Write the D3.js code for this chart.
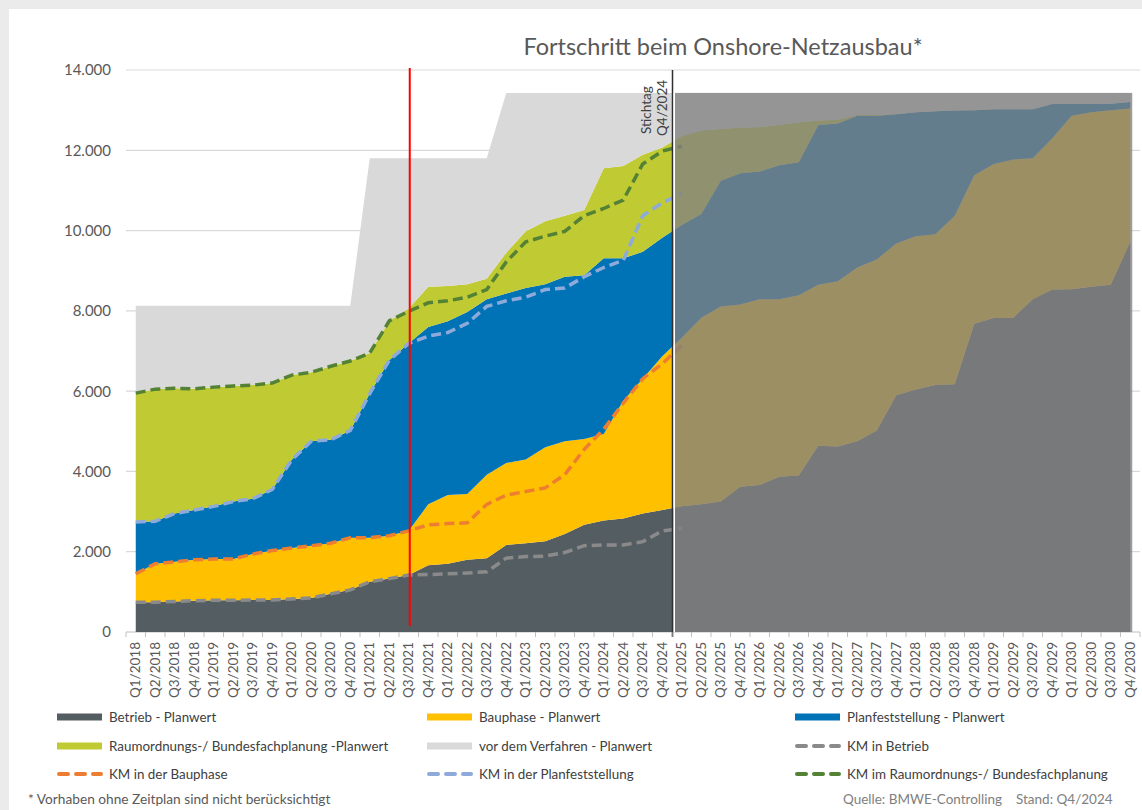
<!DOCTYPE html>
<html>
<head>
<meta charset="utf-8">
<script src="https://cdn.jsdelivr.net/npm/d3@7"></script>
<style>
  body { margin: 0; background: #ebebeb; }
  svg { display: block; }
  text { font-family: Lato, "Open Sans", sans-serif; }
</style>
</head>
<body>
<script>
// Quartale Q1/2018 .. Q4/2030
const quarters = [
  "Q1/2018","Q2/2018","Q3/2018","Q4/2018","Q1/2019","Q2/2019","Q3/2019","Q4/2019",
  "Q1/2020","Q2/2020","Q3/2020","Q4/2020","Q1/2021","Q2/2021","Q3/2021","Q4/2021",
  "Q1/2022","Q2/2022","Q3/2022","Q4/2022","Q1/2023","Q2/2023","Q3/2023","Q4/2023",
  "Q1/2024","Q2/2024","Q3/2024","Q4/2024","Q1/2025","Q2/2025","Q3/2025","Q4/2025",
  "Q1/2026","Q2/2026","Q3/2026","Q4/2026","Q1/2027","Q2/2027","Q3/2027","Q4/2027",
  "Q1/2028","Q2/2028","Q3/2028","Q4/2028","Q1/2029","Q2/2029","Q3/2029","Q4/2029",
  "Q1/2030","Q2/2030","Q3/2030","Q4/2030"
];

// Planwerte (km je Phase, gestapelt)
const betrieb = [740,740,760,780,790,790,800,800,820,850,950,1050,1250,1330,1420,1660,
  1700,1800,1840,2170,2210,2260,2440,2670,2780,2830,2950,3040,3130,3180,3250,3620,
  3660,3870,3900,4640,4620,4750,5020,5900,6040,6150,6170,7680,7820,7830,8290,8530,
  8540,8600,8650,9720];
const bauphase = [710,960,990,1020,1030,1030,1140,1230,1270,1300,1260,1300,1100,1070,1100,1520,
  1710,1640,2080,2040,2090,2340,2310,2140,2150,2930,3360,3830,4200,4650,4860,4540,
  4630,4420,4490,4010,4120,4330,4260,3780,3820,3760,4200,3700,3840,3940,3510,3770,
  4320,4350,4350,3320];
const planfest = [1290,1060,1200,1240,1310,1430,1380,1520,2200,2600,2580,2670,3590,4370,4670,4420,
  4330,4530,4370,4220,4270,4060,4100,4080,4380,3550,3160,2950,2810,2580,3130,3270,
  3180,3340,3310,3980,3930,3780,3580,3220,3090,3060,2620,1620,1360,1250,1220,850,
  290,200,160,160];
const raumordnung = [3210,3290,3120,3020,2970,2880,2830,2650,2110,1720,1830,1730,1010,980,870,1000,
  880,690,510,1020,1410,1570,1520,1620,2240,2300,2420,2250,2210,2080,1290,1130,
  1110,1000,990,110,90,20,20,0,0,0,0,0,0,0,0,0,
  0,0,0,0];
const vorVerfahren = [2180,2080,2060,2070,2030,2000,1980,1930,1730,1660,1510,1380,4850,4050,3740,3200,
  3180,3140,3000,3980,3450,3200,3060,2920,1880,1820,1540,1360,1080,940,900,870,
  850,800,740,690,670,550,550,530,480,460,440,430,410,410,410,280,
  280,280,270,230];

// Ist-Werte (kumuliert, km) bis Q1/2025
const kmBetrieb = [740,740,760,780,790,790,800,800,820,850,950,1050,1250,1330,1420,1430,
  1450,1470,1500,1840,1880,1890,1980,2150,2170,2170,2250,2520,2580];
const kmBauphase = [1450,1700,1750,1800,1820,1820,1940,2030,2090,2150,2210,2350,2350,2400,2520,2670,
  2700,2720,3180,3410,3500,3590,3920,4550,5050,5700,6310,6680,7140];
const kmPlanfest = [2740,2760,2950,3040,3130,3250,3320,3550,4290,4750,4790,5020,5940,6770,7190,7370,
  7460,7690,8110,8250,8340,8530,8570,8850,9080,9260,10370,10690,10920];
const kmRaumordnung = [5950,6050,6070,6060,6100,6130,6150,6200,6400,6470,6620,6750,6950,7750,7990,8200,
  8250,8340,8530,9220,9720,9860,9980,10370,10550,10760,11660,11980,12100];

const yTicks = [0, 2000, 4000, 6000, 8000, 10000, 12000, 14000];
const stichtag = "Q4/2024";
const redMark = "Q3/2021";

const areaSeries = [
  { key: "betrieb", label: "Betrieb - Planwert", color: "#545d62" },
  { key: "bauphase", label: "Bauphase - Planwert", color: "#ffc000" },
  { key: "planfest", label: "Planfeststellung - Planwert", color: "#0072b6" },
  { key: "raumordnung", label: "Raumordnungs-/ Bundesfachplanung -Planwert", color: "#c0ca33" },
  { key: "vorVerfahren", label: "vor dem Verfahren - Planwert", color: "#d9d9d9" }
];
const lineSeries = [
  { values: kmBetrieb, label: "KM in Betrieb", color: "#8a8a8a" },
  { values: kmBauphase, label: "KM in der Bauphase", color: "#ed7d31" },
  { values: kmPlanfest, label: "KM in der Planfeststellung", color: "#8eaadb" },
  { values: kmRaumordnung, label: "KM im Raumordnungs-/ Bundesfachplanung", color: "#548235" }
];

const width = 1142, height = 810;

const svg = d3.select("body").append("svg")
    .attr("width", width)
    .attr("height", height);

svg.append("rect")
    .attr("x", 9).attr("y", 9)
    .attr("width", width - 9).attr("height", height - 9)
    .attr("fill", "#fff");

const x = d3.scalePoint()
    .domain(quarters)
    .range([126, 1140])
    .padding(0.5);

const y = d3.scaleLinear()
    .domain([0, 14000])
    .range([632, 70]);

const step = x.step();

// Gitterlinien
svg.append("g")
  .selectAll("line")
  .data(yTicks)
  .enter().append("line")
    .attr("x1", 126).attr("x2", 1140)
    .attr("y1", d => y(d)).attr("y2", d => y(d))
    .attr("stroke", d => d === 0 ? "#bfbfbf" : "#d9d9d9")
    .attr("stroke-width", 1.2);

svg.append("g")
  .selectAll("text")
  .data(yTicks)
  .enter().append("text")
    .attr("x", 111)
    .attr("y", d => y(d))
    .attr("dy", "0.36em")
    .attr("text-anchor", "end")
    .attr("font-size", 15)
    .attr("fill", "#595959")
    .text(d => d3.format(",")(d).replace(/,/g, "."));

// gestapelte Flaechen
const rows = quarters.map((q, i) => ({
  q,
  betrieb: betrieb[i],
  bauphase: bauphase[i],
  planfest: planfest[i],
  raumordnung: raumordnung[i],
  vorVerfahren: vorVerfahren[i]
}));

const stack = d3.stack().keys(areaSeries.map(s => s.key));
const stacked = stack(rows);

const area = d3.area()
    .x(d => x(d.data.q))
    .y0(d => y(d[0]))
    .y1(d => y(d[1]));

svg.append("g")
  .selectAll("path")
  .data(stacked)
  .enter().append("path")
    .attr("fill", (d, i) => areaSeries[i].color)
    .attr("d", area);

// Ist-Linien
const line = d3.line()
    .x((d, i) => x(quarters[i]))
    .y(d => y(d));

svg.append("g")
  .selectAll("path")
  .data(lineSeries)
  .enter().append("path")
    .attr("fill", "none")
    .attr("stroke", d => d.color)
    .attr("stroke-width", 3.5)
    .attr("stroke-dasharray", "10,5")
    .attr("d", d => line(d.values));

// Prognosebereich ab Stichtag
const xb = x(stichtag) + step / 2;
const xEnd = x(quarters[quarters.length - 1]);
const topTotal = d3.max(stacked[stacked.length - 1], d => d[1]);

svg.append("line")
    .attr("x1", xb + 0.5).attr("x2", xb + 0.5)
    .attr("y1", 70).attr("y2", 637)
    .attr("stroke", "#2f2f2f")
    .attr("stroke-width", 1.5);

svg.append("rect")
    .attr("x", xb + 3)
    .attr("y", y(topTotal))
    .attr("width", xEnd + 2 - xb - 3)
    .attr("height", y(0) - y(topTotal))
    .attr("fill", "rgb(129,129,129)")
    .attr("fill-opacity", 0.776);

svg.append("line")
    .attr("x1", xb + 2.2).attr("x2", xb + 2.2)
    .attr("y1", y(topTotal)).attr("y2", 632)
    .attr("stroke", "#fff")
    .attr("stroke-width", 1.6);

svg.append("text")
    .attr("transform", `translate(${xb - 21},134) rotate(-90)`)
    .attr("font-size", 13.5)
    .attr("fill", "#404040")
    .text("Stichtag");
svg.append("text")
    .attr("transform", `translate(${xb - 5},136) rotate(-90)`)
    .attr("font-size", 13.5)
    .attr("fill", "#404040")
    .text(stichtag);

// rote Markierung
svg.append("line")
    .attr("x1", x(redMark) + 1).attr("x2", x(redMark) + 1)
    .attr("y1", 68).attr("y2", 626)
    .attr("stroke", "#ff0000")
    .attr("stroke-width", 2);

// x-Achse
svg.append("g")
  .selectAll("line")
  .data(d3.range(quarters.length + 1))
  .enter().append("line")
    .attr("x1", i => 126 + i * step).attr("x2", i => 126 + i * step)
    .attr("y1", 632).attr("y2", 637)
    .attr("stroke", "#bfbfbf");

svg.append("g")
  .selectAll("text")
  .data(quarters)
  .enter().append("text")
    .attr("transform", d => `translate(${x(d) + 4.5},642) rotate(-90)`)
    .attr("text-anchor", "end")
    .attr("font-size", 13.5)
    .attr("fill", "#595959")
    .text(d => d);

// Titel
svg.append("text")
    .attr("x", 723).attr("y", 55)
    .attr("text-anchor", "middle")
    .attr("font-size", 23.5)
    .attr("fill", "#595959")
    .text("Fortschritt beim Onshore-Netzausbau*");

// Legende
const legendItems = [
  { type: "area", s: areaSeries[0] }, { type: "area", s: areaSeries[1] }, { type: "area", s: areaSeries[2] },
  { type: "area", s: areaSeries[3] }, { type: "area", s: areaSeries[4] }, { type: "line", s: lineSeries[0] },
  { type: "line", s: lineSeries[1] }, { type: "line", s: lineSeries[2] }, { type: "line", s: lineSeries[3] }
];
const colX = [57, 427, 795];
const rowY = [717, 746, 774];

const legend = svg.append("g")
  .selectAll("g")
  .data(legendItems)
  .enter().append("g")
    .attr("transform", (d, i) => `translate(${colX[i % 3]},${rowY[Math.floor(i / 3)]})`);

legend.filter(d => d.type === "area").append("rect")
    .attr("x", 0).attr("y", -3.5)
    .attr("width", 45).attr("height", 7)
    .attr("fill", d => d.s.color);

legend.filter(d => d.type === "line").append("line")
    .attr("x1", 2).attr("x2", 44)
    .attr("y1", 0).attr("y2", 0)
    .attr("stroke", d => d.s.color)
    .attr("stroke-width", 4)
    .attr("stroke-linecap", "round")
    .attr("stroke-dasharray", "9,8");

legend.append("text")
    .attr("x", 52)
    .attr("y", 0)
    .attr("dy", "0.35em")
    .attr("font-size", 13.4)
    .attr("fill", "#404040")
    .text(d => d.s.label);

// Fussnoten
svg.append("text")
    .attr("x", 28).attr("y", 804)
    .attr("font-size", 13.7)
    .attr("fill", "#595959")
    .text("* Vorhaben ohne Zeitplan sind nicht berücksichtigt");
svg.append("text")
    .attr("x", 843).attr("y", 804)
    .attr("font-size", 13.5)
    .attr("fill", "#808080")
    .text("Quelle: BMWE-Controlling");
svg.append("text")
    .attr("x", 1016).attr("y", 804)
    .attr("font-size", 13.5)
    .attr("fill", "#808080")
    .text("Stand: Q4/2024");
</script>
</body>
</html>
